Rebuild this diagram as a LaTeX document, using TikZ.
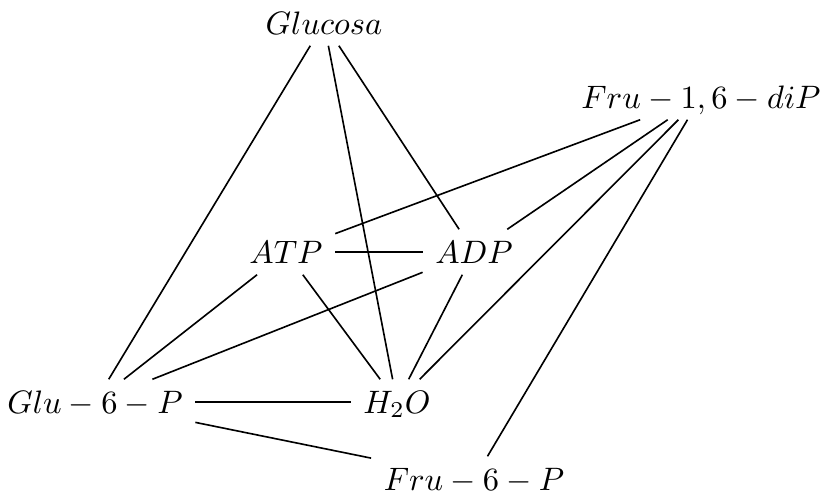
\documentclass[tikz,border=0pt]{standalone}
\begin{document}
\begin{tikzpicture}[x=0.308pt,y=-0.308pt,
  chem/.style={rectangle,inner xsep=3.7pt,inner ysep=3.4pt,text height=6.8pt,text depth=0pt},
  link/.style={line width=0.5pt}]
\useasboundingbox (0,0) rectangle (820,493);
\node[chem] (glc) at (324,23) {$Glucosa$};
\node[chem] (f16) at (701,97) {$Fru-1,6-diP$};
\node[chem] (atp) at (286,252) {$ATP$};
\node[chem] (adp) at (474,252) {$ADP$};
\node[chem] (g6p) at (95,402) {$Glu-6-P$};
\node[chem] (h2o) at (397,402) {$H_2O$};
\node[chem] (f6p) at (474,479) {$Fru-6-P$};
\draw[link] (glc) -- (g6p);
\draw[link] (glc) -- (h2o);
\draw[link] (glc) -- (adp);
\draw[link] (f16) -- (atp);
\draw[link] (f16) -- (adp);
\draw[link] (f16) -- (h2o);
\draw[link] (f16) -- (f6p);
\draw[link] (atp) -- (adp);
\draw[link] (atp) -- (g6p);
\draw[link] (atp) -- (h2o);
\draw[link] (adp) -- (g6p);
\draw[link] (adp) -- (h2o);
\draw[link] (g6p) -- (h2o);
\draw[link] (g6p) -- (f6p);
\end{tikzpicture}
\end{document}
